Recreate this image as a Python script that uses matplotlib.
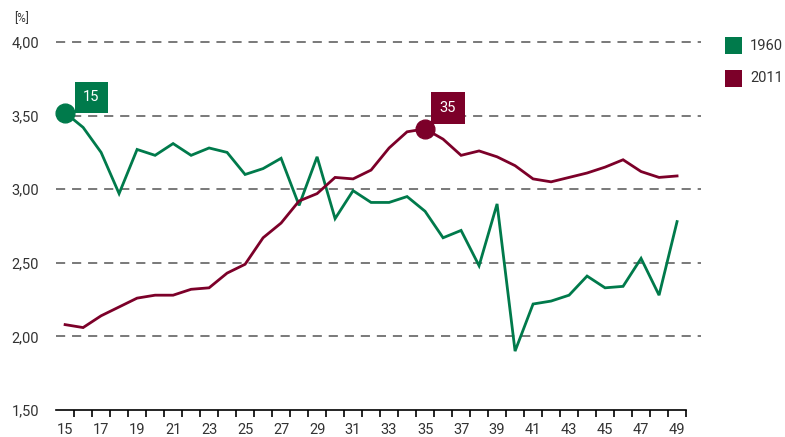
import matplotlib.pyplot as plt
from matplotlib.ticker import FixedLocator

# age groups and the two series (%)
alter = list(range(15, 50))
werte_1960 = [3.52, 3.42, 3.25, 2.97, 3.27, 3.23, 3.31, 3.23, 3.28, 3.25,
              3.10, 3.14, 3.21, 2.89, 3.22, 2.80, 2.99, 2.91, 2.91, 2.95,
              2.85, 2.67, 2.72, 2.48, 2.90, 1.90, 2.22, 2.24, 2.28, 2.41,
              2.33, 2.34, 2.53, 2.28, 2.78]
werte_2011 = [2.08, 2.06, 2.14, 2.20, 2.26, 2.28, 2.28, 2.32, 2.33, 2.43,
              2.49, 2.67, 2.77, 2.92, 2.97, 3.08, 3.07, 3.13, 3.28, 3.39,
              3.41, 3.34, 3.23, 3.26, 3.22, 3.16, 3.07, 3.05, 3.08, 3.11,
              3.15, 3.20, 3.12, 3.08, 3.09]
y_ticks = [1.5, 2.0, 2.5, 3.0, 3.5, 4.0]
x_labels = list(range(15, 50, 2))
serien = ["1960", "2011"]
spitzen = [15, 35]   # marked ages

gruen = "#007a4b"
rot = "#7c0029"
grau_text = "#333333"

plt.rcParams['font.family'] = ['Roboto', 'DejaVu Sans']

fig = plt.figure(figsize=(7.85, 4.37), dpi=100)
W, H = 785, 437
ax = fig.add_axes([57 / W, (437 - 410) / H, 644 / W, 368 / H])

ax.set_xlim(14.55, 50.33)
ax.set_ylim(1.5, 4.0)

# dashed grid lines
for y in y_ticks[1:]:
    ax.plot([14.5, 50.33], [y, y], color="#555555", lw=1.1,
            dashes=(6, 4.5), zorder=1, clip_on=False)

ax.plot(alter, werte_1960, color=gruen, lw=2.0, zorder=3, solid_joinstyle="miter")
ax.plot(alter, werte_2011, color=rot, lw=2.0, zorder=3, solid_joinstyle="miter")

# highlight points with labels
for serie, farbe, alter_sp, off in [(werte_1960, gruen, spitzen[0], (19, 11)),
                                    (werte_2011, rot, spitzen[1], (16.5, 15))]:
    wert = serie[alter.index(alter_sp)]
    ax.plot([alter_sp], [wert], "o", color=farbe, ms=13.5, zorder=4, clip_on=False)
    ax.annotate(str(alter_sp), (alter_sp, wert), xytext=off,
                textcoords="offset points", ha="center", va="center",
                color="white", fontsize=10.5, zorder=5,
                bbox=dict(boxstyle="square,pad=0.6", fc=farbe, ec="none"))

for s in ["top", "right", "left"]:
    ax.spines[s].set_visible(False)
ax.spines["bottom"].set_bounds(14.5, 49.5)
ax.spines["bottom"].set_color("black")
ax.spines["bottom"].set_linewidth(1.2)

ax.xaxis.set_major_locator(FixedLocator(x_labels))
ax.set_xticklabels([str(a) for a in x_labels])
ax.xaxis.set_minor_locator(FixedLocator([a - 0.5 for a in alter] + [49.5]))
ax.tick_params(axis="x", which="major", length=0, pad=9, labelsize=10.5,
               labelcolor=grau_text)
ax.tick_params(axis="x", which="minor", length=5, width=1.2, color="black")

ax.set_yticks(y_ticks)
ax.set_yticklabels([f"{v:.2f}".replace(".", ",") for v in y_ticks])
ax.tick_params(axis="y", length=0, pad=13, labelsize=10.5, labelcolor=grau_text)

fig.text(14 / W, 1 - 19 / H, "[%]", fontsize=8.5, color=grau_text, va="center")

# legend
for i, (name, farbe) in enumerate(zip(serien, [gruen, rot])):
    yc = 45.5 + i * 33
    fig.patches.append(plt.Rectangle((725 / W, 1 - (yc + 8.5) / H), 17 / W, 17 / H,
                                     transform=fig.transFigure, fc=farbe, ec="none"))
    fig.text(750 / W, 1 - yc / H, name, fontsize=10.5, color=grau_text, va="center")

fig.savefig("out.png", dpi=100)
